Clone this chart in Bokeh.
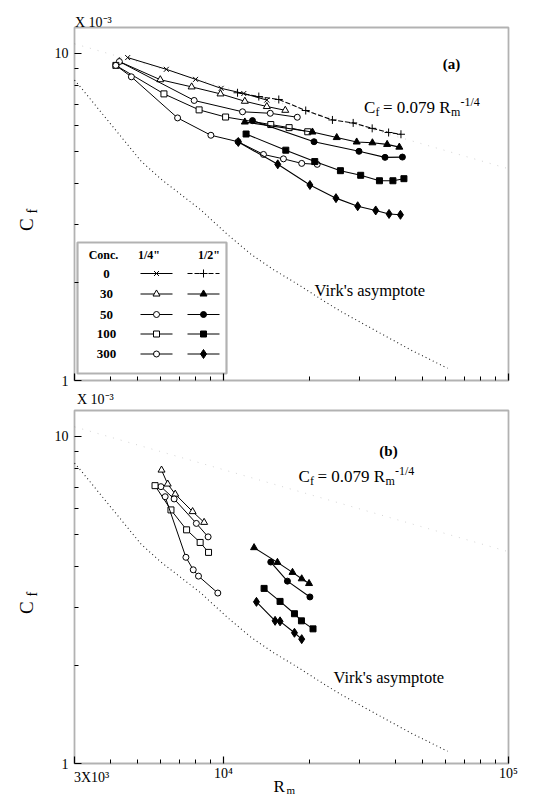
import math
from bokeh.plotting import figure
from bokeh.models import Label, BoxAnnotation, FixedTicker, CustomJSTickFormatter, Range1d
from bokeh.layouts import column
from bokeh.embed import file_html
from bokeh.resources import INLINE

FONT = "Liberation Serif"

# ---------------- data (Cf in units of 1e-3) ----------------
# panel (a), 1/4" pipe (open markers)
a_q0_rm = [4610, 6300, 7980, 9810, 11780, 14190]
a_q0_cf = [9.71, 8.94, 8.33, 7.82, 7.54, 7.20]
a_q30_rm = [4310, 6000, 7730, 9760, 11880, 14190, 16470]
a_q30_cf = [9.44, 8.31, 7.90, 7.52, 7.14, 6.88, 6.70]
a_q50_rm = [4310, 7890, 11660, 14590, 18150]
a_q50_cf = [9.44, 7.18, 6.63, 6.56, 6.38]
a_q100_rm = [4190, 6180, 8210, 10170, 14650, 16990, 19750]
a_q100_cf = [9.19, 7.52, 6.72, 6.39, 6.06, 5.93, 5.76]
a_q300_rm = [4190, 4750, 6900, 9030, 11250, 13810, 16230, 18810, 21320]
a_q300_cf = [9.19, 8.48, 6.35, 5.62, 5.37, 4.91, 4.76, 4.61, 4.58]
# panel (a), 1/2" pipe (filled markers)
a_h0_rm = [11200, 13300, 15630, 19430, 24110, 28510, 33240, 37960, 41940]
a_h0_cf = [7.58, 7.38, 7.23, 6.69, 6.26, 6.13, 5.90, 5.73, 5.66]
a_h30_rm = [11880, 20510, 24960, 29330, 33300, 37510, 41390]
a_h30_cf = [6.17, 5.75, 5.53, 5.36, 5.33, 5.27, 5.17]
a_h50_rm = [12640, 20780, 29880, 36880, 42440]
a_h50_cf = [6.23, 5.37, 5.02, 4.81, 4.82]
a_h100_rm = [12000, 16540, 20900, 25720, 30290, 35250, 39300, 42960]
a_h100_cf = [5.67, 5.06, 4.67, 4.38, 4.24, 4.08, 4.08, 4.14]
a_h300_rm = [11270, 15500, 20100, 24810, 29570, 34200, 38090, 41770]
a_h300_cf = [5.36, 4.58, 3.96, 3.61, 3.41, 3.31, 3.23, 3.21]

# panel (b)
b_q30_rm = [6060, 6370, 6770, 7790, 8550]
b_q30_cf = [7.89, 7.15, 6.66, 5.89, 5.46]
b_q50_rm = [6030, 6710, 8030, 8830]
b_q50_cf = [7.02, 6.44, 5.42, 4.93]
b_q100_rm = [5750, 6540, 7420, 8280, 8860]
b_q100_cf = [7.07, 5.96, 5.18, 4.74, 4.42]
b_q300_rm = [6240, 7380, 7830, 8170, 9550]
b_q300_cf = [6.54, 4.27, 3.91, 3.74, 3.32]
b_h30_rm = [12800, 15460, 17460, 18810, 19960]
b_h30_cf = [4.57, 4.12, 3.84, 3.67, 3.55]
b_h50_rm = [14650, 16760, 20100]
b_h50_cf = [4.13, 3.61, 3.23]
b_h100_rm = [13880, 15790, 17740, 18770, 20610]
b_h100_cf = [3.43, 3.13, 2.87, 2.73, 2.58]
b_h300_rm = [13050, 15170, 15790, 17740, 18810]
b_h300_cf = [3.12, 2.73, 2.72, 2.51, 2.40]

# Virk's asymptote and the 0.079 Rm^-1/4 line
virk_rm = [3000, 3160, 5130, 6030, 8330, 10300, 12500, 15000, 18200, 22500, 26000, 34200, 45400, 61100]
virk_cf = [8.29, 7.86, 4.69, 4.13, 3.32, 2.80, 2.43, 2.18, 1.97, 1.75, 1.62, 1.42, 1.24, 1.09]
blasius_rm = [3000, 100000]
blasius_cf = [10.7, 4.44]

concs = ["0", "30", "50", "100", "300"]
x_lim = [3000, 100000]
y_lim = [1, 12]
x_major = [3000, 10000, 100000]
x_minor = [4000, 5000, 6000, 7000, 8000, 9000, 20000, 30000, 40000, 50000, 60000, 70000, 80000, 90000]
y_major = [1, 10]
y_minor = [2, 3, 4, 5, 6, 7, 8, 9]

# styles: conc -> (marker, size, dash)
q_style = {"0": ("x", 7, "solid"), "30": ("triangle", 7, "solid"), "50": ("circle", 6, "solid"),
           "100": ("square", 6, "solid"), "300": ("circle", 6, "solid")}
h_style = {"0": ("cross", 8, "5 2"), "30": ("triangle", 7, "solid"), "50": ("circle", 6, "solid"),
           "100": ("square", 6, "solid"), "300": ("diamond", 9, "solid")}

# ---------------- layout geometry (page pixels) ----------------
W = 535
FL, FW, FH = 74, 434, 353          # plot box left, width, height
TOP_A, TOP_B = 27, 410             # plot box tops on the page
HA = 392                           # height of the upper figure
HB = 796 - HA                      # height of the lower figure
LX = math.log10(x_lim[1] / x_lim[0])
LY = math.log10(y_lim[1] / y_lim[0])


def xd(px):
    return x_lim[0] * 10 ** (LX * (px - FL) / FW)


def yd(py, top):
    return y_lim[0] * 10 ** (LY * (top + FH - py) / FH)


def make_fig(height, page_y0, top, labels):
    p = figure(width=W, height=height, x_axis_type="log", y_axis_type="log",
               x_range=Range1d(xd(0), xd(W)),
               y_range=Range1d(yd(page_y0 + height, top), yd(page_y0, top)),
               output_backend="svg", toolbar_location=None,
               min_border_left=0, min_border_right=0, min_border_top=0, min_border_bottom=0)
    p.grid.visible = False
    p.outline_line_color = None
    p.background_fill_color = "white"
    p.border_fill_color = "white"
    p.xaxis.fixed_location = y_lim[0]
    p.yaxis.fixed_location = x_lim[0]
    for ax in (p.xaxis[0], p.yaxis[0]):
        ax.axis_line_alpha = 0
        ax.major_tick_in = 7
        ax.major_tick_out = 0
        ax.minor_tick_in = 4
        ax.minor_tick_out = 0
        ax.major_tick_line_width = 1.2
        ax.minor_tick_line_width = 1
        ax.major_label_text_font = FONT
        ax.major_label_text_font_size = "14px"
        ax.major_label_text_color = "black"
    p.xaxis.ticker = FixedTicker(ticks=x_major, minor_ticks=x_minor)
    p.yaxis.ticker = FixedTicker(ticks=y_major, minor_ticks=y_minor)
    p.yaxis.formatter = CustomJSTickFormatter(code="return Math.round(tick).toString();")
    p.yaxis.major_label_standoff = 6
    if labels:
        p.xaxis.formatter = CustomJSTickFormatter(code="""
            if (Math.abs(tick - 10000) < 1) return "10\u2074";
            if (Math.abs(tick - 100000) < 1) return "10\u2075";
            return "";""")
        p.xaxis.major_label_standoff = 2
    else:
        p.xaxis.formatter = CustomJSTickFormatter(code="return '';")
    # plot box
    p.add_layout(BoxAnnotation(left=x_lim[0], right=x_lim[1], bottom=y_lim[0], top=y_lim[1],
                               fill_alpha=0, line_color="black", line_width=1.8))
    return p


def lab(p, top, px, py, text, size, align="left", baseline="alphabetic", bold=False, angle=0.0):
    p.add_layout(Label(x=xd(px), y=yd(py, top), text=text, text_font=FONT,
                       text_font_size=f"{size}px", text_align=align, text_baseline=baseline,
                       text_font_style="bold" if bold else "normal", angle=angle,
                       text_color="black"))


def draw_series(p, rm, cf, style, filled, lw):
    marker, size, dash = style
    p.line(rm, cf, line_color="black", line_width=lw, line_dash=dash)
    p.scatter(rm, cf, marker=marker, size=size, line_color="black", line_width=1,
              fill_color="black" if filled else "white")


def draw_refs(p):
    p.line(blasius_rm, blasius_cf, line_color="#aaaaaa", line_alpha=0.5, line_width=1, line_dash="1 7")
    p.line(virk_rm, virk_cf, line_color="#222222", line_width=1.1, line_dash="1 3")


def equation(p, top, x0, base):
    lab(p, top, x0, base, "C", 17)
    lab(p, top, x0 + 11.5, base + 4.5, "f", 12)
    lab(p, top, x0 + 19, base, "= 0.079 R", 17)
    lab(p, top, x0 + 87, base + 4.5, "m", 12)
    lab(p, top, x0 + 96.5, base - 6, "-1/4", 12)


def cf_label(p, top):
    lab(p, top, 25.6, top + 203.5, "C", 19, angle=math.pi / 2)
    lab(p, top, 31.5, top + 186, "f", 14, angle=math.pi / 2)


# ---------------- panel (a) ----------------
pa = make_fig(HA, 0, TOP_A, labels=False)
draw_refs(pa)
a_q = {"0": (a_q0_rm, a_q0_cf), "30": (a_q30_rm, a_q30_cf), "50": (a_q50_rm, a_q50_cf),
       "100": (a_q100_rm, a_q100_cf), "300": (a_q300_rm, a_q300_cf)}
a_h = {"0": (a_h0_rm, a_h0_cf), "30": (a_h30_rm, a_h30_cf), "50": (a_h50_rm, a_h50_cf),
       "100": (a_h100_rm, a_h100_cf), "300": (a_h300_rm, a_h300_cf)}
for c in concs:
    draw_series(pa, a_q[c][0], a_q[c][1], q_style[c], False, 1.0)
for c in concs:
    draw_series(pa, a_h[c][0], a_h[c][1], h_style[c], True, 1.1)

lab(pa, TOP_A, 74.5, 22, "X 10\u207b\u00b3", 14)
lab(pa, TOP_A, 451, 63, "(a)", 15, align="center", baseline="middle", bold=True)
equation(pa, TOP_A, 363.5, 107.3)
lab(pa, TOP_A, 314, 289.5, "Virk's asymptote", 16.5)
cf_label(pa, TOP_A)

# legend box (drawn with the series' own styles)
pa.add_layout(BoxAnnotation(left=xd(77), right=xd(226), top=yd(242, TOP_A), bottom=yd(373, TOP_A),
                            fill_alpha=0, line_color="black", line_width=2.2))
lab(pa, TOP_A, 103, 254, "Conc.", 12, align="center", baseline="middle", bold=True)
lab(pa, TOP_A, 148.5, 254, "1/4\"", 12, align="center", baseline="middle", bold=True)
lab(pa, TOP_A, 208.5, 254, "1/2\"", 12, align="center", baseline="middle", bold=True)
row_y = [273, 293.5, 314, 333.5, 353.5]
for c, ry in zip(concs, row_y):
    lab(pa, TOP_A, 106, ry, c, 13, align="center", baseline="middle", bold=True)
    for (x0, x1, xm, style, filled) in ((140, 172, 156, q_style[c], False),
                                        (187, 219, 203, h_style[c], True)):
        marker, size, dash = style
        yy = yd(ry, TOP_A)
        pa.line([xd(x0), xd(x1)], [yy, yy], line_color="black", line_width=1, line_dash=dash)
        pa.scatter([xd(xm)], [yy], marker=marker, size=size, line_color="black", line_width=1,
                   fill_color="black" if filled else "white")

# ---------------- panel (b) ----------------
pb = make_fig(HB, HA, TOP_B, labels=True)
draw_refs(pb)
b_q = {"30": (b_q30_rm, b_q30_cf), "50": (b_q50_rm, b_q50_cf),
       "100": (b_q100_rm, b_q100_cf), "300": (b_q300_rm, b_q300_cf)}
b_h = {"30": (b_h30_rm, b_h30_cf), "50": (b_h50_rm, b_h50_cf),
       "100": (b_h100_rm, b_h100_cf), "300": (b_h300_rm, b_h300_cf)}
for c in ["30", "50", "100", "300"]:
    draw_series(pb, b_q[c][0], b_q[c][1], q_style[c], False, 1.0)
for c in ["30", "50", "100", "300"]:
    draw_series(pb, b_h[c][0], b_h[c][1], h_style[c], True, 1.1)

lab(pb, TOP_B, 76.5, 399, "X 10\u207b\u00b3", 14)
lab(pb, TOP_B, 388, 450, "(b)", 15, align="center", baseline="middle", bold=True)
equation(pb, TOP_B, 298, 476)
lab(pb, TOP_B, 333, 677, "Virk's asymptote", 16.5)
cf_label(pb, TOP_B)
lab(pb, TOP_B, 73.5, 776.5, "3X10\u00b3", 14)
lab(pb, TOP_B, 273, 785.5, "R", 17)
lab(pb, TOP_B, 286, 789, "m", 11)

layout = column(pa, pb, spacing=0)
open("out.html", "w").write(file_html(layout, INLINE))
